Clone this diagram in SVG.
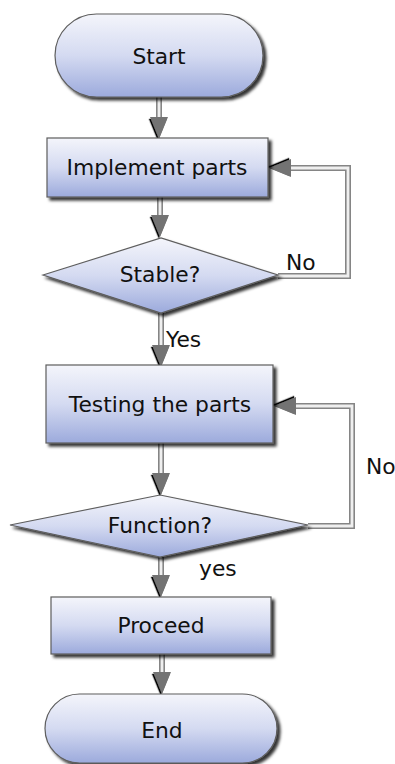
<svg xmlns="http://www.w3.org/2000/svg" width="395" height="764" viewBox="0 0 395 764">
  <style>
    .node { fill: url(#fillGrad); stroke: #5e5e5e; stroke-width: 1.2; filter: url(#shadow); }
    .label { font-family: "DejaVu Sans", Verdana, sans-serif; font-size: 21.8px; fill: #111; }
    .mid { text-anchor: middle; }
    .wire-outer { fill: none; stroke: #858585; stroke-width: 6; }
    .wire-inner { fill: none; stroke: #efefef; stroke-width: 2.8; }
  </style>
  <defs>
    <linearGradient id="fillGrad" x1="0" y1="0" x2="0" y2="1">
      <stop offset="0" stop-color="#f4f5fb"/>
      <stop offset="0.5" stop-color="#d4daf1"/>
      <stop offset="1" stop-color="#9caadc"/>
    </linearGradient>
    <filter id="shadow" x="-10%" y="-10%" width="125%" height="135%">
      <feDropShadow dx="3" dy="3" stdDeviation="1.4" flood-color="#000" flood-opacity="0.8"/>
    </filter>
    <filter id="headShadow" x="-30%" y="-30%" width="170%" height="170%">
      <feDropShadow dx="1.8" dy="1.2" stdDeviation="0.5" flood-color="#000" flood-opacity="1"/>
    </filter>
    <!-- arrowhead: base sits on the path end, tip points forward -->
    <marker id="head" markerUnits="userSpaceOnUse" markerWidth="30" markerHeight="26"
            viewBox="-2 -12 30 26" refX="0" refY="0" orient="auto" overflow="visible">
      <polygon points="0,-9 0,9 22,0" fill="#737373" filter="url(#headShadow)"/>
    </marker>
  </defs>

  <!-- connectors -->
  <g id="connectors">
    <g id="c-start-impl">
      <path class="wire-outer" d="M159,97 V117" marker-end="url(#head)"/>
      <path class="wire-inner" d="M159,97 V117"/>
    </g>
    <g id="c-impl-stable">
      <path class="wire-outer" d="M160,197 V215" marker-end="url(#head)"/>
      <path class="wire-inner" d="M160,197 V215"/>
    </g>
    <g id="c-stable-no">
      <path class="wire-outer" d="M278,276 H348 V168 H291" marker-end="url(#head)"/>
      <path class="wire-inner" d="M278,276 H348 V168 H291"/>
    </g>
    <g id="c-stable-test">
      <path class="wire-outer" d="M161,313 V345" marker-end="url(#head)"/>
      <path class="wire-inner" d="M161,313 V345"/>
    </g>
    <g id="c-test-func">
      <path class="wire-outer" d="M161,443 V473" marker-end="url(#head)"/>
      <path class="wire-inner" d="M161,443 V473"/>
    </g>
    <g id="c-func-no">
      <path class="wire-outer" d="M308,526 H352 V406 H296" marker-end="url(#head)"/>
      <path class="wire-inner" d="M308,526 H352 V406 H296"/>
    </g>
    <g id="c-func-proceed">
      <path class="wire-outer" d="M161,557 V575" marker-end="url(#head)"/>
      <path class="wire-inner" d="M161,557 V575"/>
    </g>
    <g id="c-proceed-end">
      <path class="wire-outer" d="M162,654 V672" marker-end="url(#head)"/>
      <path class="wire-inner" d="M162,654 V672"/>
    </g>
    <text class="label" x="286" y="270">No</text>
    <text class="label" x="166" y="347">Yes</text>
    <text class="label" x="366" y="474">No</text>
    <text class="label" x="199" y="576">yes</text>
  </g>

  <!-- nodes -->
  <g id="start">
    <rect class="node" x="55" y="14" width="208" height="83" rx="41.5" ry="41.5"/>
    <text class="label mid" x="159" y="64">Start</text>
  </g>
  <g id="implement">
    <rect class="node" x="47" y="138" width="221" height="59"/>
    <text class="label mid" x="157" y="175">Implement parts</text>
  </g>
  <g id="stable">
    <polygon class="node" points="43,275 161,238 278,275 161,313"/>
    <text class="label mid" x="160" y="282">Stable?</text>
  </g>
  <g id="testing">
    <rect class="node" x="46" y="365" width="227" height="78"/>
    <text class="label mid" x="160" y="412">Testing the parts</text>
  </g>
  <g id="function">
    <polygon class="node" points="10,525 160,495 308,525 160,557"/>
    <text class="label mid" x="160" y="533">Function?</text>
  </g>
  <g id="proceed">
    <rect class="node" x="51" y="597" width="220" height="57"/>
    <text class="label mid" x="161" y="633">Proceed</text>
  </g>
  <g id="end">
    <rect class="node" x="45" y="694" width="232" height="69" rx="34.5" ry="34.5"/>
    <text class="label mid" x="162" y="738">End</text>
  </g>
</svg>
